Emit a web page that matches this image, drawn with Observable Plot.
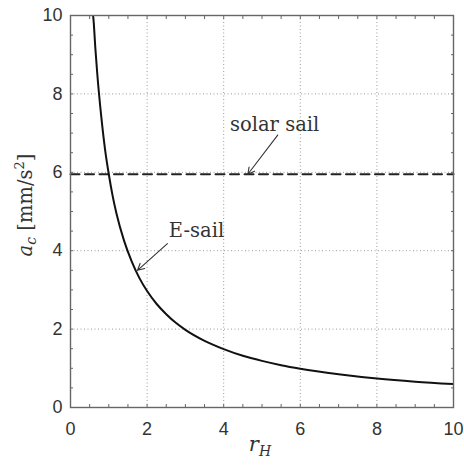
<!DOCTYPE html>
<html>
<head>
<meta charset="utf-8">
<script src="https://cdn.jsdelivr.net/npm/d3@7"></script>
<script src="https://cdn.jsdelivr.net/npm/@observablehq/plot@0.6"></script>
<style>
  body { margin: 0; background: #fff; }
  #chart { width: 464px; height: 465px; }
  .serif-label { font-family: "DejaVu Serif", serif; }
</style>
</head>
<body>
<div id="chart"></div>
<script>
// Characteristic acceleration a_c [mm/s^2] versus heliocentric distance r_H
const rH = [0.59, 0.6, 0.65, 0.7, 0.8, 0.9, 1.0, 1.1, 1.2, 1.4, 1.6, 1.8, 2.0, 2.25, 2.5, 2.75, 3.0, 3.5, 4.0, 4.5, 5.0, 5.5, 6.0, 7.0, 8.0, 9.0, 10.0];
const aEsail = [10.0, 9.9, 9.15, 8.5, 7.45, 6.6, 5.95, 5.4, 4.95, 4.25, 3.72, 3.3, 2.97, 2.64, 2.38, 2.16, 1.98, 1.7, 1.49, 1.32, 1.19, 1.08, 0.99, 0.85, 0.74, 0.66, 0.6];
const aSolarSail = 5.95;
const solarRange = [0, 10];

const majorTicks = [0, 2, 4, 6, 8, 10];
const gridTicks = [2, 4, 6, 8];
const minorTicks = d3.range(0, 10.01, 0.5);

// Callout labels and the arrows pointing at each curve
const calloutText = ["solar sail", "E-sail"];
const calloutX = [5.33, 3.29];
const calloutY = [7.22, 4.5];
const arrowFromX = [5.41, 2.53];
const arrowFromY = [6.95, 4.18];
const arrowToX = [4.63, 1.75];
const arrowToY = [5.95, 3.5];

const esail = rH.map((r, i) => ({r, a: aEsail[i]}));
const solar = solarRange.map(r => ({r, a: aSolarSail}));
const callouts = calloutText.map((t, i) => ({
  t, x: calloutX[i], y: calloutY[i],
  x1: arrowFromX[i], y1: arrowFromY[i], x2: arrowToX[i], y2: arrowToY[i]
}));

const axisColor = "#666";
const tickLen = 3;

const chart = Plot.plot({
  width: 464,
  height: 465,
  marginTop: 15,
  marginRight: 11,
  marginBottom: 58,
  marginLeft: 70,
  style: {fontFamily: "'Liberation Sans', Arial, sans-serif", fontSize: "18px", background: "#fff", color: "#333"},
  x: {domain: [0, 10], axis: null},
  y: {domain: [0, 10], axis: null},
  marks: [
    Plot.gridX(gridTicks, {stroke: "#999", strokeOpacity: 1, strokeDasharray: "1,2.5"}),
    Plot.gridY(gridTicks, {stroke: "#999", strokeOpacity: 1, strokeDasharray: "1,2.5"}),
    // inward-pointing ticks on all four sides
    Plot.axisX(minorTicks, {anchor: "bottom", tickSize: tickLen, dy: -tickLen, fill: "none", stroke: axisColor, label: null}),
    Plot.axisX(minorTicks, {anchor: "top", tickSize: tickLen, dy: tickLen, fill: "none", stroke: axisColor, label: null}),
    Plot.axisY(minorTicks, {anchor: "left", tickSize: tickLen, dx: tickLen, fill: "none", stroke: axisColor, label: null}),
    Plot.axisY(minorTicks, {anchor: "right", tickSize: tickLen, dx: -tickLen, fill: "none", stroke: axisColor, label: null}),
    // tick labels
    Plot.axisX(majorTicks, {anchor: "bottom", tickSize: 0, tickPadding: 15, fill: "#333", label: null}),
    Plot.axisY(majorTicks, {anchor: "left", tickSize: 0, tickPadding: 8, fill: "#333", label: null}),
    Plot.line(solar, {x: "r", y: "a", stroke: "#222", strokeWidth: 2, strokeDasharray: "9,5.5"}),
    Plot.line(esail, {x: "r", y: "a", stroke: "#111", strokeWidth: 2, curve: "monotone-x", clip: true}),
    Plot.arrow(callouts, {x1: "x1", y1: "y1", x2: "x2", y2: "y2", stroke: "#333", strokeWidth: 1.1, headLength: 10, headAngle: 55}),
    Plot.text(callouts, {x: "x", y: "y", text: "t", className: "serif-label", fontFamily: "DejaVu Serif", fontSize: 19.5, fill: "#333"}),
    Plot.frame({stroke: axisColor, strokeWidth: 1.4})
  ]
});

// Axis titles with math-style subscripts and superscript
const svg = d3.select(chart);
const yTitle = svg.append("text")
  .attr("class", "serif-label")
  .attr("transform", "translate(32,205) rotate(-90)")
  .attr("text-anchor", "middle")
  .style("font-family", "'DejaVu Serif', serif")
  .style("font-size", "19.5px")
  .attr("fill", "#333");
yTitle.append("tspan").style("font-style", "italic").text("a");
yTitle.append("tspan").style("font-style", "italic").style("font-size", "14px").attr("dy", 4).text("c");
yTitle.append("tspan").attr("dy", -4).text(" [mm/s");
yTitle.append("tspan").style("font-size", "13px").attr("dy", -8).text("2");
yTitle.append("tspan").attr("dy", 8).text("]");

const xTitle = svg.append("text")
  .attr("class", "serif-label")
  .attr("x", 260)
  .attr("y", 451)
  .attr("text-anchor", "middle")
  .style("font-family", "'DejaVu Serif', serif")
  .style("font-size", "21px")
  .attr("fill", "#333");
xTitle.append("tspan").style("font-style", "italic").text("r");
xTitle.append("tspan").style("font-style", "italic").style("font-size", "14px").attr("dy", 5).text("H");

document.getElementById("chart").appendChild(chart);
</script>
</body>
</html>
